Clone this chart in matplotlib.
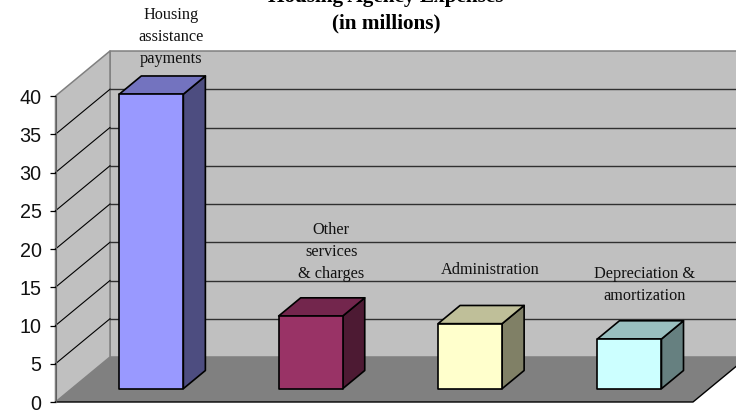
import matplotlib
matplotlib.use("Agg")
import matplotlib.pyplot as plt
from matplotlib.patches import Polygon
from matplotlib.colors import to_rgb

categories = ["Housing\nassistance\npayments", "Other\nservices\n& charges",
              "Administration", "Depreciation &\namortization"]
values = [38.5, 9.5, 8.5, 6.5]
colors = ["#9999FF", "#993366", "#FFFFCC", "#CCFFFF"]
yticks = [0, 5, 10, 15, 20, 25, 30, 35, 40]
title = "Housing Agency Expenses\n(in millions)"

W, H = 736, 411
fig = plt.figure(figsize=(W / 100, H / 100), dpi=100, facecolor="white")
# front plane of the 3-D box, in pixels
L, R, B, T = 55.5, 693.0, 402.0, 96.0
ax = fig.add_axes([L / W, 1 - B / H, (R - L) / W, (B - T) / H])
ax.set_xlim(0, len(categories))
ax.set_ylim(0, 40)

DX = 54.5 / ((R - L) / len(categories))   # box depth, category units
DY = 45.0 / ((B - T) / 40)                # box depth, value units


def P(x, y, d=0.0):
    return (x + d * DX, y + d * DY)


def poly(pts, fc, ec="none", lw=0.0, z=1):
    ax.add_patch(Polygon(pts, closed=True, facecolor=fc, edgecolor=ec, linewidth=lw,
                         zorder=z, clip_on=False, joinstyle="round"))


def shade(c, f):
    return tuple(v * f for v in to_rgb(c))


xmax = len(categories)
ymax = yticks[-1]
# walls and floor
poly([P(0, 0, 1), P(xmax, 0, 1), P(xmax, ymax, 1), P(0, ymax, 1)], "#C0C0C0", "#808080", 1.1, 1)
poly([P(0, 0), P(0, 0, 1), P(0, ymax, 1), P(0, ymax)], "#C0C0C0", "#808080", 1.1, 1)
poly([P(0, 0), P(xmax, 0), P(xmax, 0, 1), P(0, 0, 1)], "#808080", "none", 0, 2)

# grid: side wall then back wall
for v in yticks[1:-1]:
    ax.plot(*zip(P(0, v), P(0, v, 1)), color="black", lw=0.8, zorder=1.5, clip_on=False)
    ax.plot(*zip(P(0, v, 1), P(xmax, v, 1)), color="#303030", lw=1.0, zorder=1.5, clip_on=False)

# floor edges
ax.plot(*zip(P(0, 0), P(xmax, 0), P(xmax, 0, 1)), color="black", lw=1.0, zorder=3, clip_on=False)
ax.plot(*zip(P(0, 0), P(0, ymax)), color="#606060", lw=0.8, zorder=3, clip_on=False)

# ticks
for s in ax.spines.values():
    s.set_visible(False)
ax.patch.set_visible(False)
ax.set_xticks([])
ax.set_yticks(yticks)
ax.tick_params(axis="y", length=4, width=0.9, color="black", pad=6,
               labelsize=14.2, labelcolor="#111111")
for t in ax.get_yticklabels():
    t.set_fontfamily("Liberation Sans")

# bars
BW = 0.402
D0, D1 = 0.296, 0.70
label_offsets = [(20, 10), (20.5, 17), (20, 29), (15, 18)]
for i, (val, col, lab, off) in enumerate(zip(values, colors, categories, label_offsets)):
    x0, x1 = i + 0.5 - BW / 2, i + 0.5 + BW / 2
    kw = dict(ec="black", lw=1.2, z=5)
    poly([P(x1, 0, D0), P(x1, 0, D1), P(x1, val, D1), P(x1, val, D0)], shade(col, 0.5), **kw)
    poly([P(x0, val, D0), P(x1, val, D0), P(x1, val, D1), P(x0, val, D1)], shade(col, 0.75), **kw)
    poly([P(x0, 0, D0), P(x1, 0, D0), P(x1, val, D0), P(x0, val, D0)], col, **kw)
    ax.annotate(lab, xy=P(i + 0.5, val, D0), xytext=(off[0] * 0.72, (off[1] + 17) * 0.72),
                textcoords="offset points", ha="center", va="bottom", multialignment="center",
                family="Liberation Serif", fontsize=11.7, color="#111111", linespacing=1.52,
                zorder=8, annotation_clip=False)

fig.text(386 / W, 1 - 33.5 / H, title, ha="center", va="bottom", multialignment="center",
         family="Liberation Serif", fontweight="bold", fontsize=15.3, color="black",
         linespacing=1.45)

fig.savefig("out.png", dpi=100, facecolor="white")
